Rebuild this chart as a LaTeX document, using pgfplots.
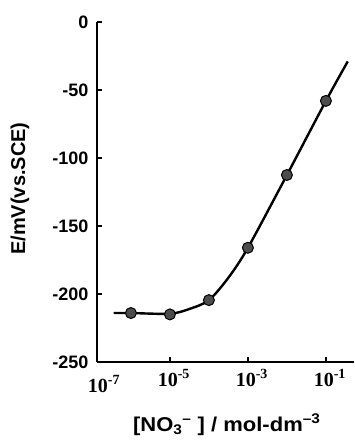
\documentclass[border=0pt]{standalone}
\usepackage{pgfplots}
\pgfplotsset{compat=1.18}
\usepackage{fontspec}
\setmainfont{Liberation Sans}
\newfontfamily\serifb{Liberation Serif}
\begin{document}
\begin{tikzpicture}
\begin{axis}[
  scale only axis, width=257pt, height=340pt,
  xmode=log, xmin=1.35e-7, xmax=0.525,
  ymin=-250, ymax=0,
  axis x line*=bottom, axis y line*=left,
  axis line style={line width=2pt},
  xtick={1e-5,1e-3,1e-1},
  xticklabels={{\serifb\bfseries 10\textsuperscript{-5}},{\serifb\bfseries 10\textsuperscript{-3}},{\serifb\bfseries 10\textsuperscript{-1}}},
  xminorticks=false,
  ytick={-250,-200,-150,-100,-50,0},
  tick align=inside, major tick length=5pt,
  tick style={line width=1.4pt, black},
  /pgf/number format/assume math mode=true,
  yticklabel style={font=\fontsize{18}{18}\selectfont\bfseries, xshift=-5pt},
  xticklabel style={font=\fontsize{20}{20}\selectfont, xshift=4pt, yshift=-4pt},
  ylabel={E/mV(vs.SCE)},
  ylabel style={font=\fontsize{20}{20}\selectfont\bfseries, at={(axis description cs:-0.30,0.51)}, anchor=center},
  xlabel={\scalebox{1.1}[1]{[NO\textsubscript{3}\textsuperscript{--} ] / mol-dm\textsuperscript{--3}}},
  xlabel style={font=\fontsize{20}{20}\selectfont\bfseries, at={(axis description cs:0.505,-0.185)}, anchor=center},
  clip=false,
]
\addplot[black, line width=2.4pt, smooth, tension=0.5] coordinates {
  (3.63e-7,-214) (1e-6,-214) (1e-5,-214.5) (3.16e-5,-211) (1e-4,-204.5)
  (3.16e-4,-188) (1e-3,-166) (1e-2,-112.5) (1e-1,-58) (0.363,-29)
};
\addplot[only marks, mark=*, mark size=5.5pt, mark options={fill=black!70, draw=black, line width=1pt}] coordinates {
  (1e-6,-214) (1e-5,-215) (1e-4,-204.5) (1e-3,-166) (1e-2,-112.5) (1e-1,-58)
};
\node[font=\fontsize{20}{20}\selectfont\serifb\bfseries] at (axis description cs:0.027,-0.064) {10\textsuperscript{-7}};
\end{axis}
\pgfresetboundingbox
\path ([shift={(-97pt,-82pt)}]current axis.south west) rectangle ([shift={(0pt,22pt)}]current axis.north east);
\end{tikzpicture}
\end{document}
